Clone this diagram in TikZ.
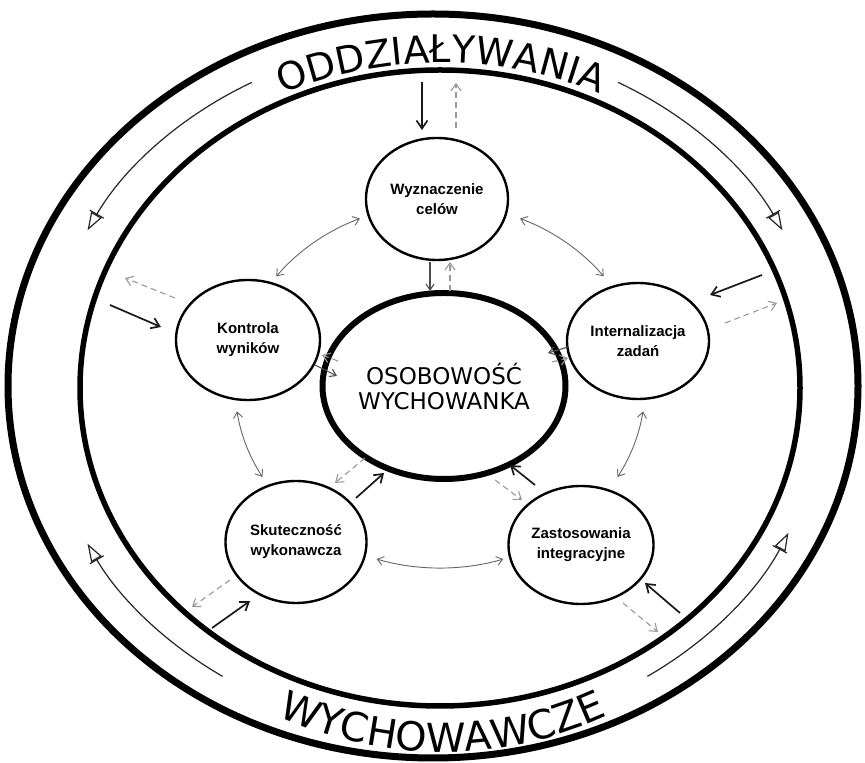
\documentclass[tikz,border=0pt]{standalone}
\usepackage{fontspec}
\setmainfont{DejaVu Sans}
\newfontfamily\labfont{Liberation Sans}
\newfontfamily\ringfont{DejaVu Sans}
\usetikzlibrary{arrows.meta,shapes.geometric,decorations.text,calc}
\newcommand\myTopFont{\ringfont\fontsize{38}{38}\selectfont}
\newcommand\myBotFont{\ringfont\fontsize{40}{40}\selectfont}
\begin{document}
\begin{tikzpicture}[x=1pt,y=1pt,
  bubble/.style={ellipse, draw, line width=2.4pt, inner sep=0pt, align=center,
    font=\labfont\bfseries\fontsize{15}{20}\selectfont},
  core/.style={ellipse, draw, line width=6pt, inner sep=0pt, align=center,
    font=\ringfont\fontsize{23}{25}\selectfont},
  link/.style={draw=black!60, line width=0.9pt,
    {Straight Barb[length=6pt,width=9pt]}-{Straight Barb[length=6pt,width=9pt]}},
  solidarr/.style={draw=black!90, line width=1.7pt, -{Straight Barb[length=8pt,width=11pt]}},
  thinarr/.style={draw=black!70, line width=1.1pt, -{Straight Barb[length=6pt,width=8pt]}},
  dasharr/.style={draw=black!40, line width=1.1pt, dash pattern=on 6pt off 4pt,
    -{Straight Barb[length=7pt,width=10pt]}},
  bandarr/.style={draw=black!85, line width=1.2pt,
    -{Bar[width=16pt,line width=1.2pt] Triangle[open,length=18pt,width=12pt,line width=1.2pt]}},
]
\useasboundingbox (0,0) rectangle (865,763);
\fill[white] (0,0) rectangle (865,763);

% rings
\coordinate (ringc) at (433,377);
\coordinate (innerc) at (440,375);
\coordinate (topc) at (441,376);
\coordinate (botc) at (443,377);
\coordinate (bandc) at (435,376);
\coordinate (linkc) at (440,377);
\draw[line width=7pt] (ringc) ellipse[x radius=425, y radius=372];
\draw[line width=5.5pt] (innerc) ellipse[x radius=360, y radius=318];

% ring texts
\path[decorate, decoration={text along path, text={|\myTopFont|ODDZIAŁYWANIA}, text align=center}]
  ([shift={(140:371 and 324)}]topc) arc[start angle=140, end angle=40, x radius=371, y radius=324];
\path[decorate, decoration={text along path, text={|\myBotFont|WYCHOWAWCZE}, text align=center}]
  ([shift={(220:380 and 366)}]botc) arc[start angle=220, end angle=320, x radius=380, y radius=366];

% band arrows
\draw[bandarr] ([shift={(118:390 and 345)}]bandc) arc[start angle=118, end angle=153, x radius=390, y radius=345];
\draw[bandarr] ([shift={(62:390 and 345)}]bandc) arc[start angle=62, end angle=27, x radius=390, y radius=345];
\draw[bandarr] ([shift={(237:390 and 345)}]bandc) arc[start angle=237, end angle=207, x radius=390, y radius=345];
\draw[bandarr] ([shift={(303:390 and 345)}]bandc) arc[start angle=303, end angle=335, x radius=390, y radius=345];

% nodes
\node[core, minimum width=210pt, minimum height=186pt] (core) at (444,377) {OSOBOWOŚĆ\\WYCHOWANKA};
\node[bubble, minimum width=142pt, minimum height=122pt] (wyz) at (437,564) {Wyznaczenie\\celów};
\node[bubble, minimum width=144pt, minimum height=120pt] (kon) at (248,423) {Kontrola\\wyników};
\node[bubble, minimum width=142pt, minimum height=116pt] (int) at (638,422) {Internalizacja\\zadań};
\node[bubble, minimum width=141pt, minimum height=122pt] (sku) at (296,221) {Skuteczność\\wykonawcza};
\node[bubble, minimum width=145pt, minimum height=118pt] (zas) at (581,218) {Zastosowania\\integracyjne};

% links between bubbles
\draw[link] ([shift={(67:205 and 182)}]linkc) arc[start angle=67, end angle=37, x radius=205, y radius=182];
\draw[link] ([shift={(113:205 and 182)}]linkc) arc[start angle=113, end angle=143, x radius=205, y radius=182];
\draw[link] ([shift={(188:205 and 182)}]linkc) arc[start angle=188, end angle=210, x radius=205, y radius=182];
\draw[link] ([shift={(-8:205 and 182)}]linkc) arc[start angle=-8, end angle=-30, x radius=205, y radius=182];
\draw[link] ([shift={(252:205 and 182)}]linkc) arc[start angle=252, end angle=288, x radius=205, y radius=182];

% arrow end points
\coordinate (wA1) at (422,681); \coordinate (wA2) at (422,633);
\coordinate (wD1) at (456,635); \coordinate (wD2) at (456,680);
\coordinate (wC1) at (430,501); \coordinate (wC2) at (430,472);
\coordinate (wE1) at (450,472); \coordinate (wE2) at (450,501);
\coordinate (kA1) at (110,458); \coordinate (kA2) at (161,436);
\coordinate (kD1) at (175,465); \coordinate (kD2) at (125,485);
\coordinate (kC1) at (315,398); \coordinate (kC2) at (337,387);
\coordinate (kE1) at (338,402); \coordinate (kE2) at (322,408);
\coordinate (iA1) at (762,488); \coordinate (iA2) at (710,468);
\coordinate (iD1) at (725,440); \coordinate (iD2) at (777,460);
\coordinate (iC1) at (568,416); \coordinate (iC2) at (548,410);
\coordinate (iE1) at (552,401); \coordinate (iE2) at (568,405);
\coordinate (sA1) at (212,135); \coordinate (sA2) at (250,162);
\coordinate (sD1) at (230,183); \coordinate (sD2) at (192,156);
\coordinate (sC1) at (356,265); \coordinate (sC2) at (384,290);
\coordinate (sE1) at (365,305); \coordinate (sE2) at (335,280);
\coordinate (zA1) at (680,150); \coordinate (zA2) at (645,180);
\coordinate (zD1) at (623,160); \coordinate (zD2) at (658,131);
\coordinate (zC1) at (535,278); \coordinate (zC2) at (510,298);
\coordinate (zE1) at (495,283); \coordinate (zE2) at (522,263);

% arrows
\draw[solidarr] (wA1) -- (wA2);
\draw[dasharr] (wD1) -- (wD2);
\draw[thinarr] (wC1) -- (wC2);
\draw[dasharr] (wE1) -- (wE2);
\draw[solidarr] (kA1) -- (kA2);
\draw[dasharr] (kD1) -- (kD2);
\draw[thinarr] (kC1) -- (kC2);
\draw[dasharr] (kE1) -- (kE2);
\draw[solidarr] (iA1) -- (iA2);
\draw[dasharr] (iD1) -- (iD2);
\draw[thinarr] (iC1) -- (iC2);
\draw[dasharr] (iE1) -- (iE2);
\draw[solidarr] (sA1) -- (sA2);
\draw[dasharr] (sD1) -- (sD2);
\draw[solidarr] (sC1) -- (sC2);
\draw[dasharr] (sE1) -- (sE2);
\draw[solidarr] (zA1) -- (zA2);
\draw[dasharr] (zD1) -- (zD2);
\draw[solidarr] (zC1) -- (zC2);
\draw[dasharr] (zE1) -- (zE2);
\end{tikzpicture}
\end{document}
